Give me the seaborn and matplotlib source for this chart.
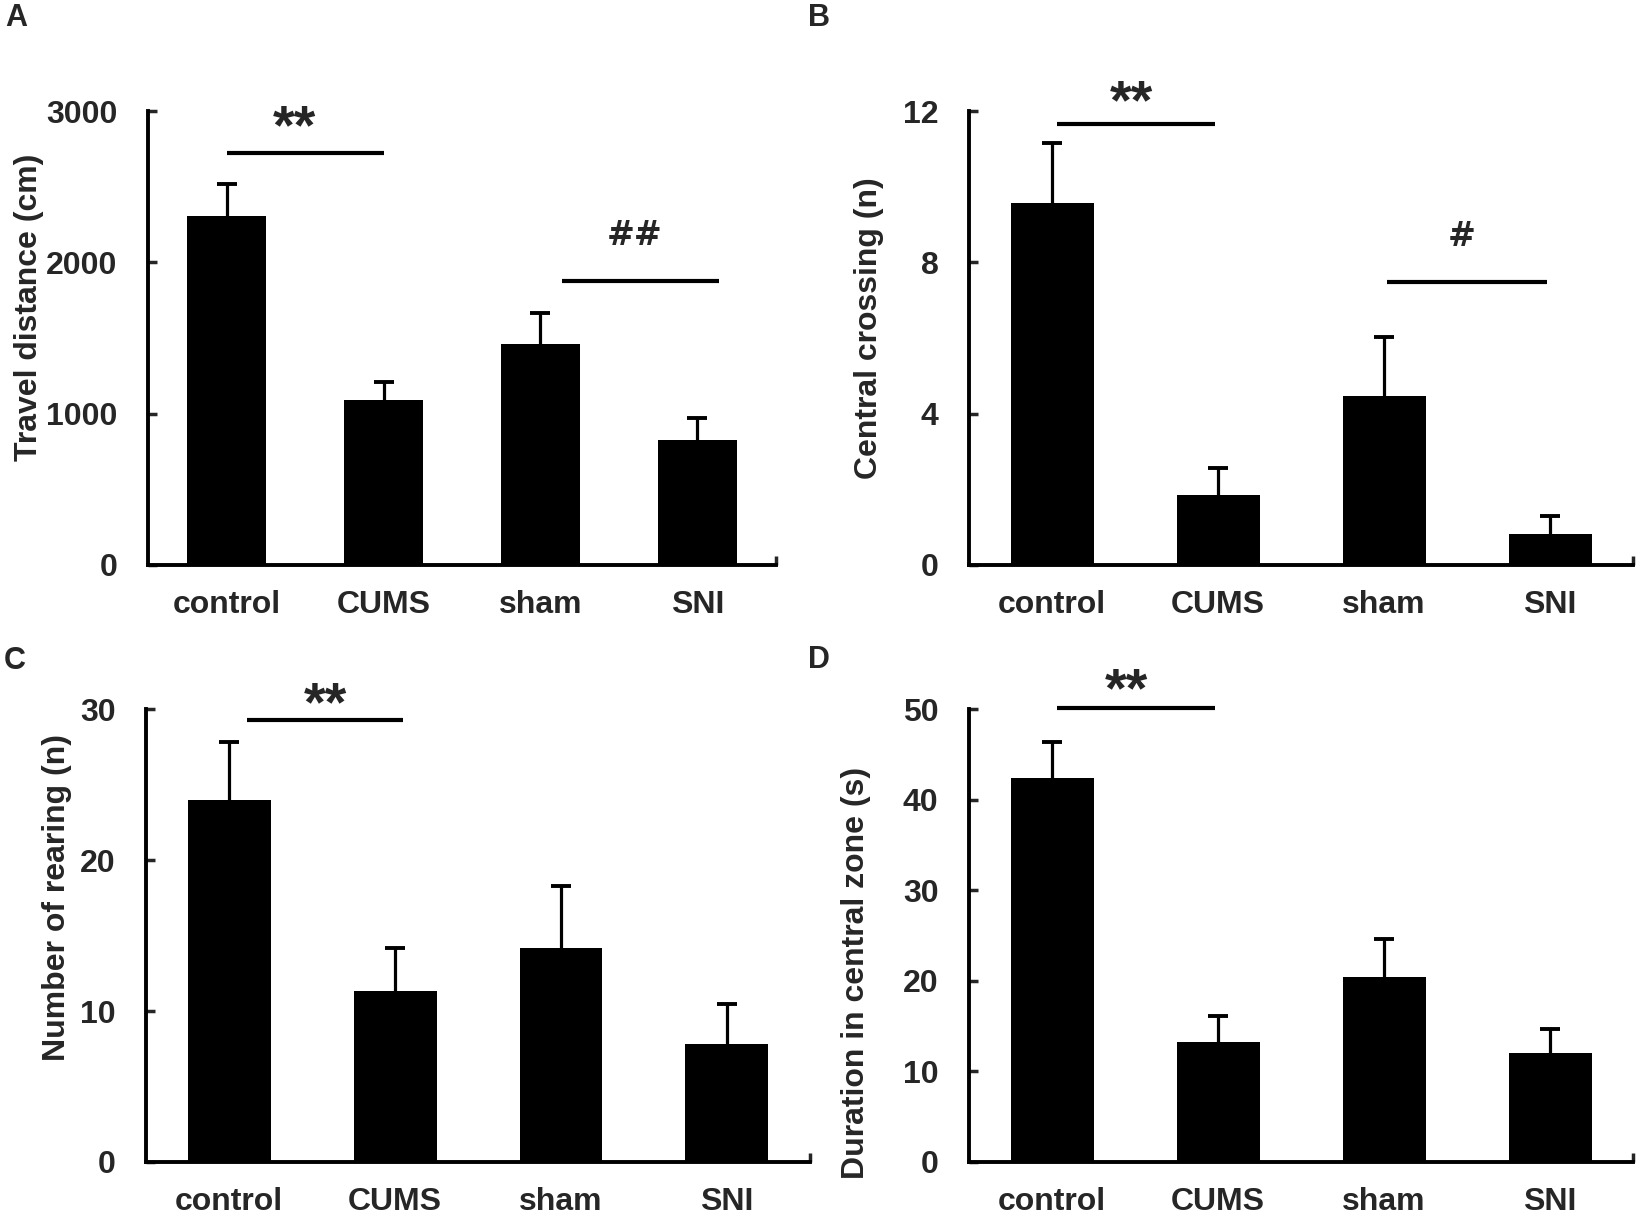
import numpy as np
import pandas as pd
import matplotlib
matplotlib.use('Agg')
import matplotlib.pyplot as plt
import seaborn as sns

# group names
groups = ['control', 'CUMS', 'sham', 'SNI']

# A - travel distance (cm): mean and top of error bar
travel_mean = [2307, 1093, 1461, 828]
travel_top = [2518, 1211, 1663, 974]

# B - central crossing (n)
crossing_mean = [9.58, 1.84, 4.46, 0.82]
crossing_top = [11.16, 2.56, 6.02, 1.30]

# C - number of rearing (n)
rearing_mean = [23.96, 11.3, 14.2, 7.85]
rearing_top = [27.85, 14.2, 18.3, 10.5]

# D - duration in central zone (s)
duration_mean = [42.4, 13.2, 20.4, 12.0]
duration_top = [46.4, 16.1, 24.6, 14.7]

sns.set_style('white')
plt.rcParams['font.family'] = ['Liberation Sans', 'DejaVu Sans']
plt.rcParams['font.weight'] = 'bold'

fig = plt.figure(figsize=(16.5, 12.3), dpi=100)

# panels: letter, axes rect, ylabel, ytop, yticks, label coords, significance marks
panels = [
    dict(letter='A', rect=[0.0897, 0.5407, 0.3806, 0.369], mean=travel_mean, top=travel_top,
         ylabel='Travel distance (cm)', ymax=3000, yticks=[0, 1000, 2000, 3000],
         lab=(-0.165, 0.568), letter_xy=(16, 18),
         sig=[(0.0, 1.0, 2723, '**', 0.43, 2786, 40),
              (2.14, 3.14, 1877, '##', 2.6, 2115, 24)]),
    dict(letter='B', rect=[0.5873, 0.5407, 0.4024, 0.369], mean=crossing_mean, top=crossing_top,
         ylabel='Central crossing (n)', ymax=12, yticks=[0, 4, 8, 12],
         lab=(-0.128, 0.521), letter_xy=(819, 18),
         sig=[(0.03, 0.98, 11.67, '**', 0.48, 11.81, 40),
              (2.02, 2.98, 7.49, '#', 2.47, 8.44, 24)]),
    dict(letter='C', rect=[0.0885, 0.0553, 0.4024, 0.368], mean=rearing_mean, top=rearing_top,
         ylabel='Number of rearing (n)', ymax=30, yticks=[0, 10, 20, 30],
         lab=(-0.111, 0.585), letter_xy=(15, 661),
         sig=[(0.11, 1.05, 29.3, '**', 0.58, 29.3, 40)]),
    dict(letter='D', rect=[0.5873, 0.0553, 0.4024, 0.368], mean=duration_mean, top=duration_top,
         ylabel='Duration in central zone (s)', ymax=50, yticks=[0, 10, 20, 30, 40, 50],
         lab=(-0.148, 0.417), letter_xy=(819, 660),
         sig=[(0.03, 0.98, 50.1, '**', 0.45, 50.3, 40)]),
]

for p in panels:
    ax = fig.add_axes(p['rect'])
    df = pd.DataFrame({'group': groups, 'value': p['mean']})
    sns.barplot(data=df, x='group', y='value', order=groups, color='black',
                saturation=1, width=0.5, linewidth=0, errorbar=None, ax=ax)
    means = np.array(p['mean'])
    tops = np.array(p['top'])
    eb = ax.errorbar(np.arange(len(groups)), means, yerr=[np.zeros(len(groups)), tops - means],
                     fmt='none', ecolor='black', elinewidth=2.3, capsize=7, capthick=2.8, zorder=3)
    # only the upper cap is shown
    eb[1][0].set_visible(False)

    ax.set_xlim(-0.5, 3.5)
    ax.set_ylim(0, p['ymax'])
    ax.set_yticks(p['yticks'])
    ax.set_yticklabels([str(t) for t in p['yticks']])
    ax.set_xticks([3.5], minor=True)
    ax.tick_params(axis='y', which='major', direction='in', length=6.5, width=2.5,
                   labelsize=23, pad=22, left=True)
    ax.tick_params(axis='x', which='major', length=0, labelsize=23, pad=18)
    ax.tick_params(axis='x', which='minor', direction='in', length=6.5, width=2.5, bottom=True)

    for s in ['top', 'right']:
        ax.spines[s].set_visible(False)
    for s in ['left', 'bottom']:
        ax.spines[s].set_linewidth(2.8)
        ax.spines[s].set_color('black')

    ax.set_xlabel('')
    ax.set_ylabel(p['ylabel'], fontsize=23, fontweight='bold')
    ax.yaxis.set_label_coords(*p['lab'])

    for x0, x1, y, txt, tx, ty, fs in p['sig']:
        ax.plot([x0, x1], [y, y], color='black', lw=3, clip_on=False, solid_capstyle='butt')
        fam = ['DejaVu Sans'] if '#' in txt else ['Liberation Sans', 'DejaVu Sans']
        ax.text(tx, ty, txt, ha='center', va='baseline', fontsize=fs, fontweight='bold',
                family=fam, clip_on=False)

    lx, ly = p['letter_xy']
    fig.text(lx / 1650, 1 - ly / 1230, p['letter'], ha='center', va='center',
             fontsize=22, fontweight='bold')

fig.savefig('out.png', dpi=100, facecolor='white')
